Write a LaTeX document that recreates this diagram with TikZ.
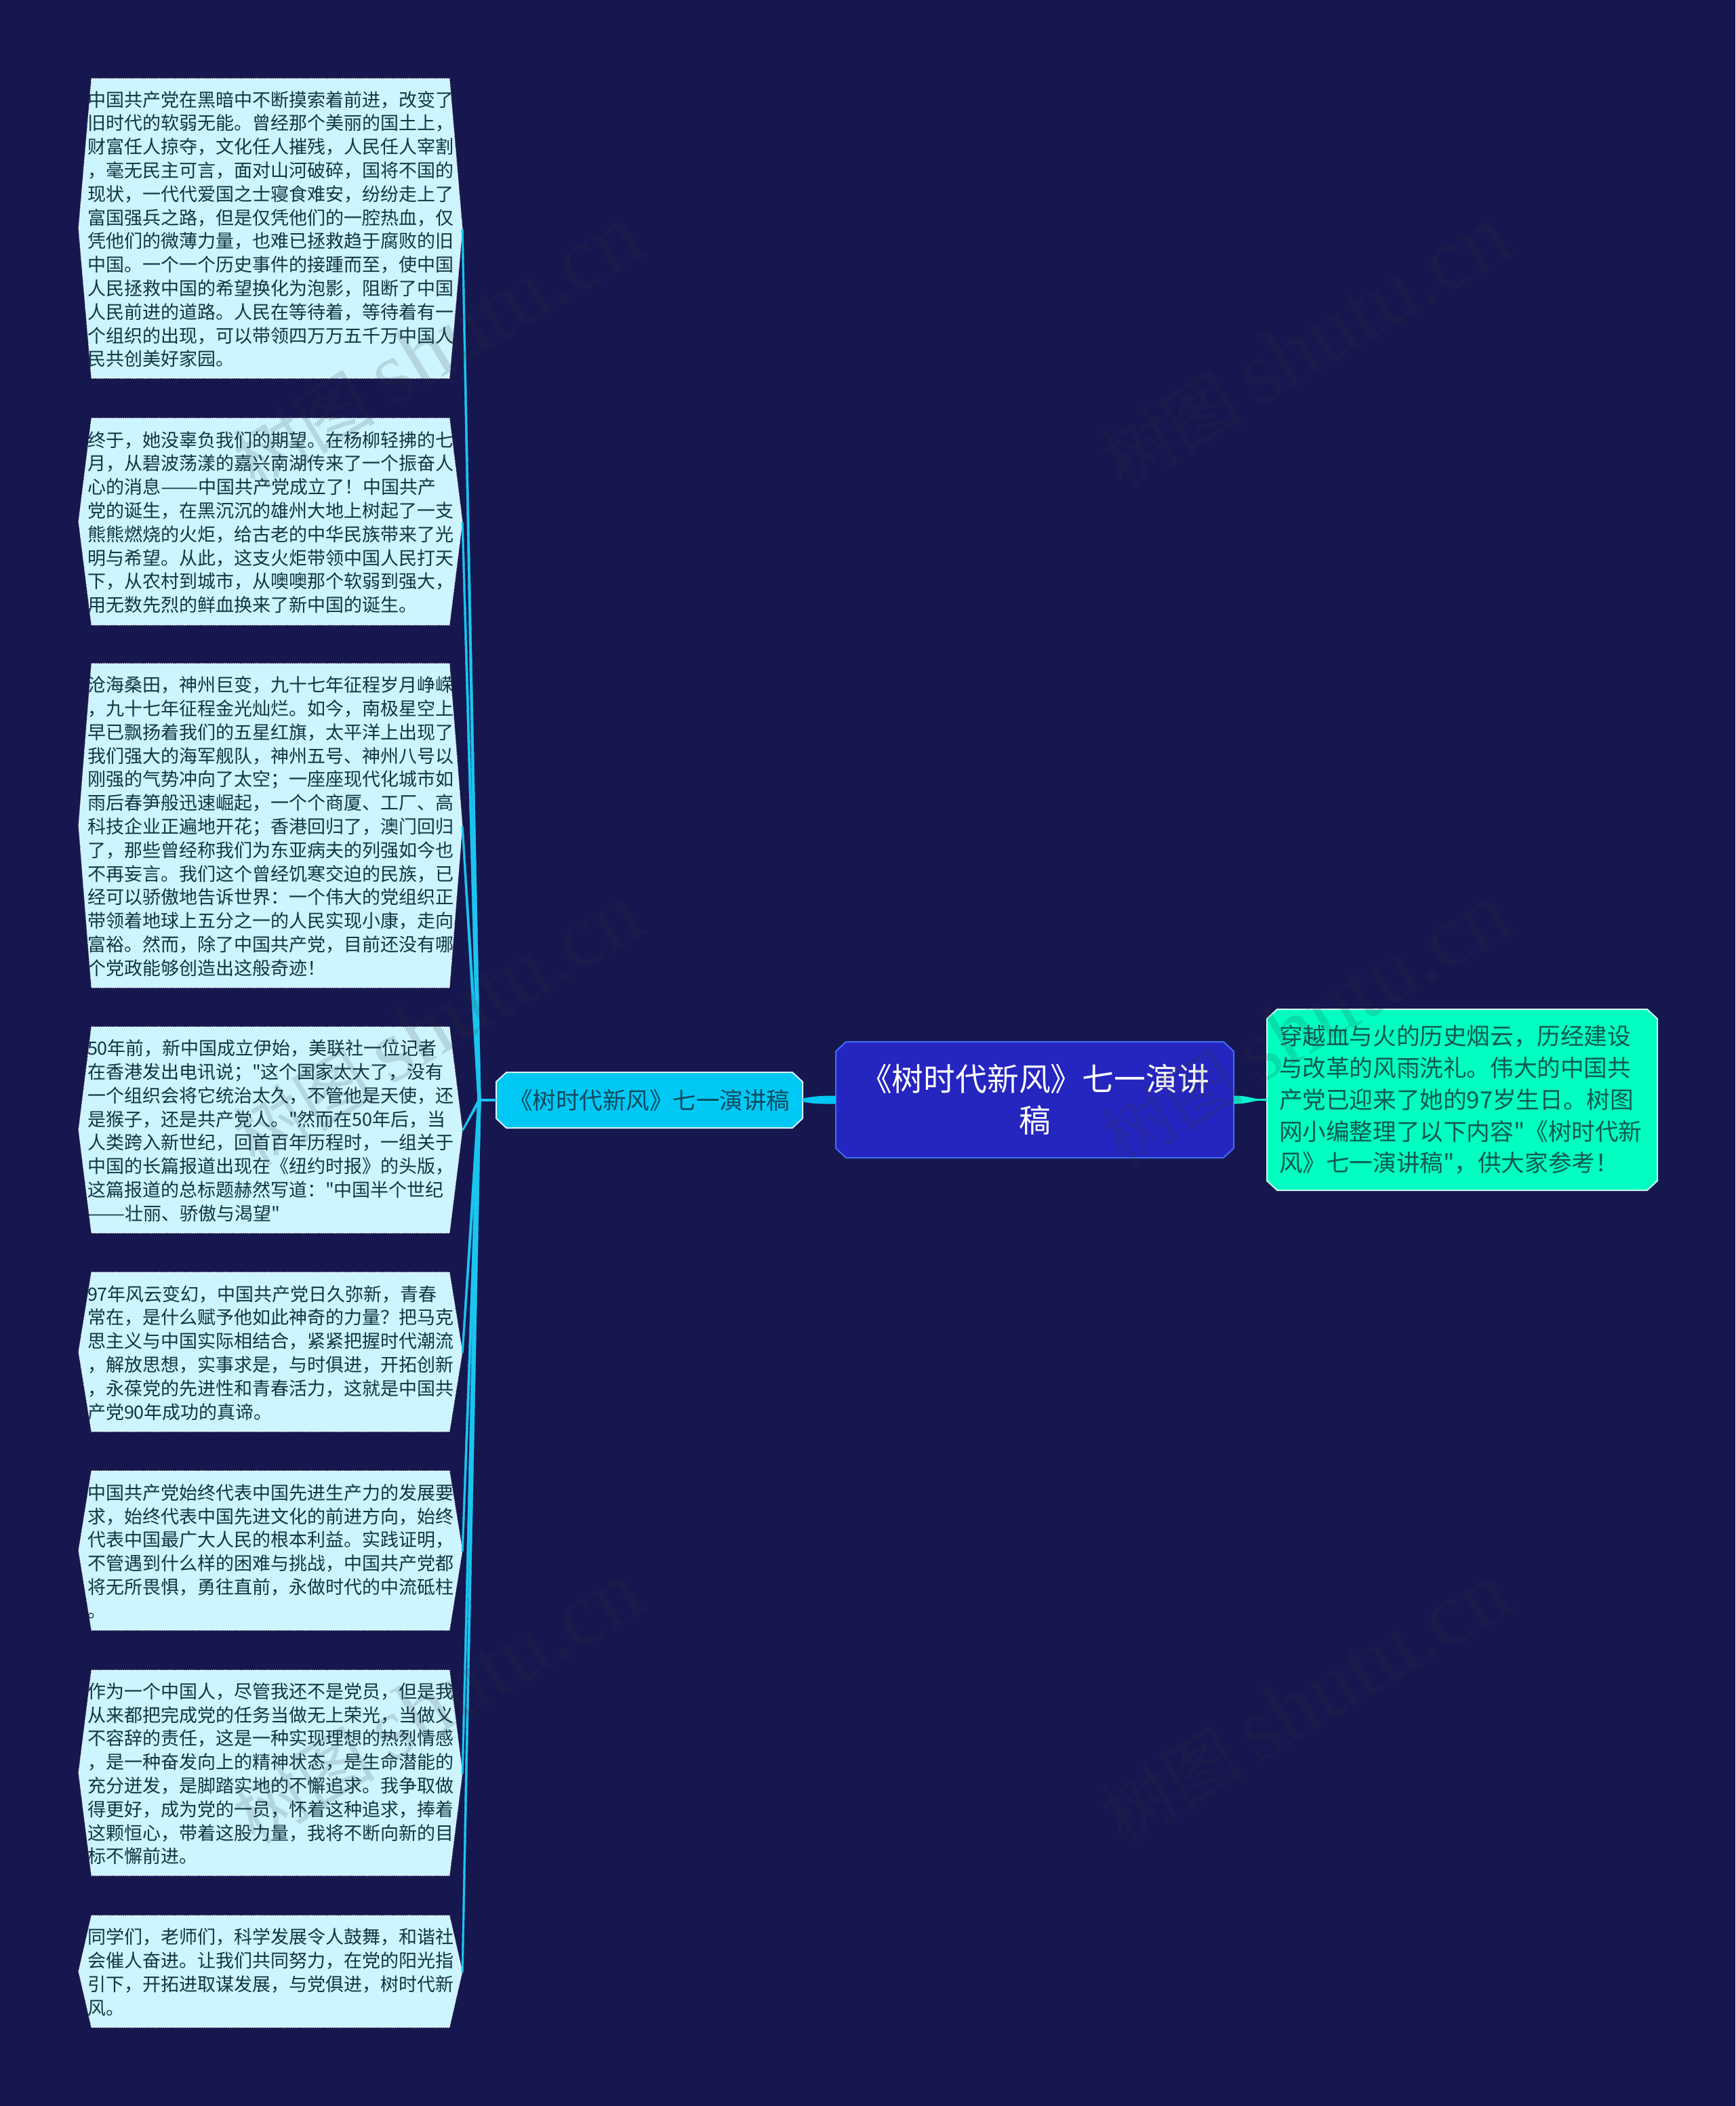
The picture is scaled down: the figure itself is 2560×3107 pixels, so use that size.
\documentclass[tikz,border=0pt]{standalone}
\usepackage{fontspec}
\setmainfont{Noto Sans CJK SC}
\newfontfamily\cjkplain{Noto Sans CJK SC}
\newfontfamily\wmlat{Liberation Serif}
\usetikzlibrary{calc}
\newcommand\longdash{\scalebox{1.22}[1]{——}}
\definecolor{bgc}{HTML}{17174F}
\definecolor{leaffill}{HTML}{CCF5FF}
\definecolor{leaftxt}{HTML}{12363E}
\definecolor{linec}{HTML}{1AC5F0}
\definecolor{subfill}{HTML}{00C8F5}
\definecolor{subline}{HTML}{D5F5FA}
\definecolor{subtxt}{HTML}{0E4A5C}
\definecolor{mainfill}{HTML}{2525C0}
\definecolor{mainline}{HTML}{3E6DF5}
\definecolor{rightfill}{HTML}{00FFC0}
\definecolor{rightline}{HTML}{D0F5EA}
\definecolor{righttxt}{HTML}{0D5A50}
\definecolor{rightconn}{HTML}{0CF0D2}
\definecolor{wmc}{HTML}{36363A}
\tikzset{
  leafshape/.style={fill=leaffill,draw=white,line width=1.2pt,dash pattern=on 1.6pt off 1.6pt},
  leaftext/.style={inner xsep=13pt,inner ysep=0pt,text width=540pt,align=left,text=leaftxt,
    font=\cjkplain\fontsize{27}{34.8}\selectfont,rectangle},
  conn/.style={fill=linec,draw=linec,line width=0.4pt,line join=round},
  subshape/.style={fill=subfill,draw=subline,line width=2pt},
  mainshape/.style={fill=mainfill,draw=mainline,line width=2pt},
  rightshape/.style={fill=rightfill,draw=rightline,line width=2pt},
  subtext/.style={text=subtxt,align=center,font=\cjkplain\fontsize{34.5}{42}\selectfont},
  maintext/.style={text=white,align=center,font=\cjkplain\fontsize{46.8}{61}\selectfont},
  righttext/.style={text=righttxt,align=left,text width=540pt,inner xsep=18pt,font=\cjkplain\fontsize{34.6}{46.7}\selectfont},
  wm/.style={text=wmc,text opacity=.16,inner sep=0pt,rotate=31,font=\cjkplain\fontsize{105}{115}\selectfont}
}
\newcommand\leafbox[4]{%
  \pgfmathsetmacro\ym{(#2+#3)/2}%
  \draw[leafshape] (135,#2)--(663,#2)--(682,\ym)--(663,#3)--(135,#3)--(116,\ym)--cycle;
  \node[leaftext,minimum height=#3pt-#2pt] (#1) at (399,\ym+1.2) {#4};
}
\newcommand\chambox[8]{%
  \pgfmathsetmacro\ym{(#3+#5)/2}\pgfmathsetmacro\xm{(#2+#4)/2}%
  \draw[#6] (#2+15,#3)--(#4-15,#3)--(#4,#3+14)--(#4,#5-14)--(#4-15,#5)--(#2+15,#5)--(#2,#5-14)--(#2,#3+14)--cycle;
  \node[#7,minimum width=#4pt-#2pt,minimum height=#5pt-#3pt,inner ysep=0pt] (#1) at (\xm,\ym) {#8};
}
\newcommand\spoke[1]{%
  \draw[conn] ($(j)+(-2.4,0)$) -- ($(#1.east)+(-1.3,0)$) -- ($(#1.east)+(1.3,0)$) -- ($(j)+(2.4,0)$) -- cycle;
}
\begin{document}
\begin{tikzpicture}[x=1pt,y=-1pt]
\useasboundingbox (0,0) rectangle (2560,3107);
\fill[bgc] (0,0) rectangle (2560,3107);
\coordinate (j) at (707,1623);

\leafbox{a}{116}{558}{中国共产党在黑暗中不断摸索着前进，改变了\\旧时代的软弱无能。曾经那个美丽的国土上，\\财富任人掠夺，文化任人摧残，人民任人宰割\\，毫无民主可言，面对山河破碎，国将不国的\\现状，一代代爱国之士寝食难安，纷纷走上了\\富国强兵之路，但是仅凭他们的一腔热血，仅\\凭他们的微薄力量，也难已拯救趋于腐败的旧\\中国。一个一个历史事件的接踵而至，使中国\\人民拯救中国的希望换化为泡影，阻断了中国\\人民前进的道路。人民在等待着，等待着有一\\个组织的出现，可以带领四万万五千万中国人\\民共创美好家园。}
\leafbox{b}{617}{922}{终于，她没辜负我们的期望。在杨柳轻拂的七\\月，从碧波荡漾的嘉兴南湖传来了一个振奋人\\心的消息\longdash 中国共产党成立了！中国共产\\党的诞生，在黑沉沉的雄州大地上树起了一支\\熊熊燃烧的火炬，给古老的中华民族带来了光\\明与希望。从此，这支火炬带领中国人民打天\\下，从农村到城市，从噢噢那个软弱到强大，\\用无数先烈的鲜血换来了新中国的诞生。}
\leafbox{c}{979}{1457}{沧海桑田，神州巨变，九十七年征程岁月峥嵘\\，九十七年征程金光灿烂。如今，南极星空上\\早已飘扬着我们的五星红旗，太平洋上出现了\\我们强大的海军舰队，神州五号、神州八号以\\刚强的气势冲向了太空；一座座现代化城市如\\雨后春笋般迅速崛起，一个个商厦、工厂、高\\科技企业正遍地开花；香港回归了，澳门回归\\了，那些曾经称我们为东亚病夫的列强如今也\\不再妄言。我们这个曾经饥寒交迫的民族，已\\经可以骄傲地告诉世界：一个伟大的党组织正\\带领着地球上五分之一的人民实现小康，走向\\富裕。然而，除了中国共产党，目前还没有哪\\个党政能够创造出这般奇迹！}
\leafbox{d}{1515}{1819}{50年前，新中国成立伊始，美联社一位记者\\在香港发出电讯说；"这个国家太大了，没有\\一个组织会将它统治太久，不管他是天使，还\\是猴子，还是共产党人。"然而在50年后，当\\人类跨入新世纪，回首百年历程时，一组关于\\中国的长篇报道出现在《纽约时报》的头版，\\这篇报道的总标题赫然写道："中国半个世纪\\\longdash 壮丽、骄傲与渴望"}
\leafbox{e}{1877}{2112}{97年风云变幻，中国共产党日久弥新，青春\\常在，是什么赋予他如此神奇的力量？把马克\\思主义与中国实际相结合，紧紧把握时代潮流\\，解放思想，实事求是，与时俱进，开拓创新\\，永葆党的先进性和青春活力，这就是中国共\\产党90年成功的真谛。}
\leafbox{f}{2170}{2405}{中国共产党始终代表中国先进生产力的发展要\\求，始终代表中国先进文化的前进方向，始终\\代表中国最广大人民的根本利益。实践证明，\\不管遇到什么样的困难与挑战，中国共产党都\\将无所畏惧，勇往直前，永做时代的中流砥柱\\。}
\leafbox{g}{2464}{2767}{作为一个中国人，尽管我还不是党员，但是我\\从来都把完成党的任务当做无上荣光，当做义\\不容辞的责任，这是一种实现理想的热烈情感\\，是一种奋发向上的精神状态，是生命潜能的\\充分迸发，是脚踏实地的不懈追求。我争取做\\得更好，成为党的一员，怀着这种追求，捧着\\这颗恒心，带着这股力量，我将不断向新的目\\标不懈前进。}
\leafbox{h}{2826}{2991}{同学们，老师们，科学发展令人鼓舞，和谐社\\会催人奋进。让我们共同努力，在党的阳光指\\引下，开拓进取谋发展，与党俱进，树时代新\\风。}

\chambox{sub}{732}{1582}{1184}{1664}{subshape}{subtext}{《树时代新风》七一演讲稿}
\chambox{main}{1233}{1537}{1820}{1708}{mainshape}{maintext}{《树时代新风》七一演讲\\稿}
\chambox{right}{1869}{1489}{2445}{1756}{rightshape}{righttext}{穿越血与火的历史烟云，历经建设\\与改革的风雨洗礼。伟大的中国共\\产党已迎来了她的97岁生日。树图\\网小编整理了以下内容"《树时代新\\风》七一演讲稿"，供大家参考！}

\foreach \n in {a,b,c,d,e,f,g,h}{\spoke{\n}}
\draw[linec,line width=3.5pt] (j) -- (sub.west);
\draw[fill=subfill,draw=none] ($(sub.east)+(0,-2.5)$) .. controls +(18,-3.5) and +(-20,0) .. ($(main.west)+(0,-6)$) -- ($(main.west)+(0,6)$) .. controls +(-20,0) and +(18,3.5) .. ($(sub.east)+(0,2.5)$) -- cycle;
\draw[fill=rightconn,draw=none] ($(main.east)+(0,-6)$) .. controls +(28,0) and +(-22,3) .. ($(right.west)+(0,-2)$) -- ($(right.west)+(0,2)$) .. controls +(-22,-3) and +(28,0) .. ($(main.east)+(0,6)$) -- cycle;

\foreach \i/\px/\py in {1/645/512,2/1925/512,3/645/1512,4/1925/1512,5/645/2512,6/1925/2512}{
  \node[wm] (wm\i) at (\px,\py) {树图 {\wmlat\fontsize{132}{135}\selectfont shutu.cn}};
}
\end{tikzpicture}
\end{document}
